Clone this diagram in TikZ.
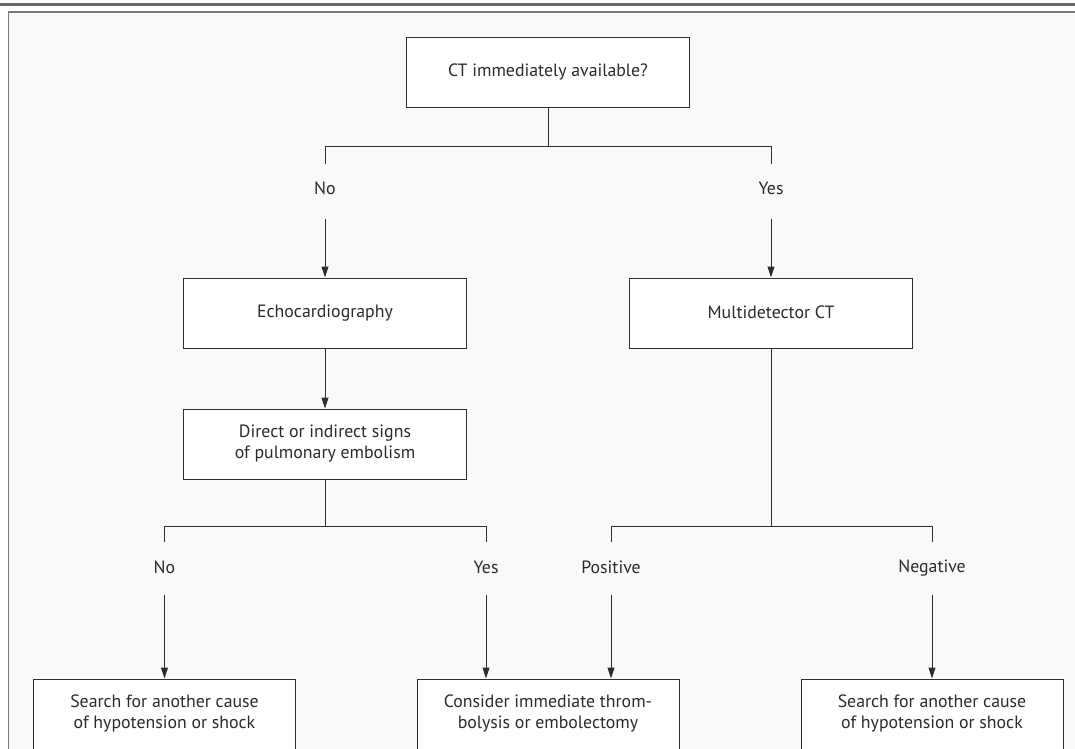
\documentclass[tikz,border=0pt]{standalone}
\usepackage{fontspec}
\setmainfont{PT Sans}
\usetikzlibrary{arrows.meta}
\definecolor{linec}{HTML}{2E2E2E}
\definecolor{textc}{HTML}{2B2B2B}
\definecolor{framec}{HTML}{7A7A7A}
\definecolor{rulec}{HTML}{6A6A6A}
\definecolor{bgc}{HTML}{F9F9F9}
\newcommand{\onestrut}{\rule[-3pt]{0pt}{16pt}}
\tikzset{
  box/.style={draw=linec, line width=1pt, fill=white, minimum width=283pt, minimum height=70pt, inner sep=0pt, align=center, text=textc, font=\fontsize{17.8}{21}\selectfont},
  endbox/.style={box, minimum width=262pt},
  lbl/.style={text=textc, font=\fontsize{17.8}{21}\selectfont, inner sep=0pt},
  conn/.style={draw=linec, line width=1pt},
  arr/.style={conn, -{Triangle[length=11pt,width=7pt]}}
}
\begin{document}
\begin{tikzpicture}[x=1pt,y=-1pt]
\useasboundingbox (0,0) rectangle (1075,748);
\clip (0,0) rectangle (1075,748);
\fill[white] (0,0) rectangle (1075,748);
\draw[rulec, line width=2.5pt] (-5,4.5) -- (1080,4.5);
\draw[framec, line width=1.5pt, fill=bgc] (8.5,12) rectangle (1090,760);

% boxes
\node[box] (top) at (548,72) {\onestrut CT immediately available?};
\node[box] (echo) at (325,313) {\onestrut Echocardiography};
\node[box] (mdct) at (771,313) {\onestrut Multidetector CT};
\node[box] (direct) at (325,444) {\strut Direct or indirect signs\\\strut of pulmonary embolism};
\node[endbox] (endl) at (164.5,714) {\strut Search for another cause\\\strut of hypotension or shock};
\node[endbox] (endm) at (548,714) {\strut Consider immediate throm-\\\strut bolysis or embolectomy};
\node[endbox] (endr) at (932,714) {\strut Search for another cause\\\strut of hypotension or shock};

% labels
\node[lbl] (lno1) at (325,189) {\onestrut No};
\node[lbl] (lyes1) at (771,189) {\onestrut Yes};
\node[lbl] (lno2) at (164.5,568) {\onestrut No};
\node[lbl] (lyes2) at (486,568) {\onestrut Yes};
\node[lbl] (lpos) at (611,568) {\onestrut Positive};
\node[lbl] (lneg) at (932,568) {\onestrut Negative};

% first split
\coordinate (j1) at (548,146);
\coordinate (t1a) at (325,146);
\coordinate (t1b) at (771,146);
\coordinate (e1a) at (325,164);
\coordinate (e1b) at (771,164);
\coordinate (s1a) at (325,219);
\coordinate (s1b) at (771,219);
\draw[conn] (top.south) -- (j1);
\draw[conn] (e1a) -- (t1a) -- (t1b) -- (e1b);
\draw[arr] (s1a) -- (echo.north);
\draw[arr] (s1b) -- (mdct.north);

% echo to direct
\draw[arr] (echo.south) -- (direct.north);

% second split (left)
\coordinate (j2) at (325,526.5);
\coordinate (t2a) at (164.5,526.5);
\coordinate (t2b) at (486,526.5);
\coordinate (e2a) at (164.5,542);
\coordinate (e2b) at (486,542);
\coordinate (s2a) at (164.5,595);
\coordinate (s2b) at (486,595);
\draw[conn] (direct.south) -- (j2);
\draw[conn] (e2a) -- (t2a) -- (t2b) -- (e2b);
\draw[arr] (s2a) -- (s2a |- endl.north);
\draw[arr] (s2b) -- (s2b |- endm.north);

% second split (right)
\coordinate (j3) at (771,526.5);
\coordinate (t3a) at (611,526.5);
\coordinate (t3b) at (932,526.5);
\coordinate (e3a) at (611,542);
\coordinate (e3b) at (932,542);
\coordinate (s3a) at (611,595);
\coordinate (s3b) at (932,595);
\draw[conn] (mdct.south) -- (j3);
\draw[conn] (e3a) -- (t3a) -- (t3b) -- (e3b);
\draw[arr] (s3a) -- (s3a |- endm.north);
\draw[arr] (s3b) -- (s3b |- endr.north);
\end{tikzpicture}
\end{document}
